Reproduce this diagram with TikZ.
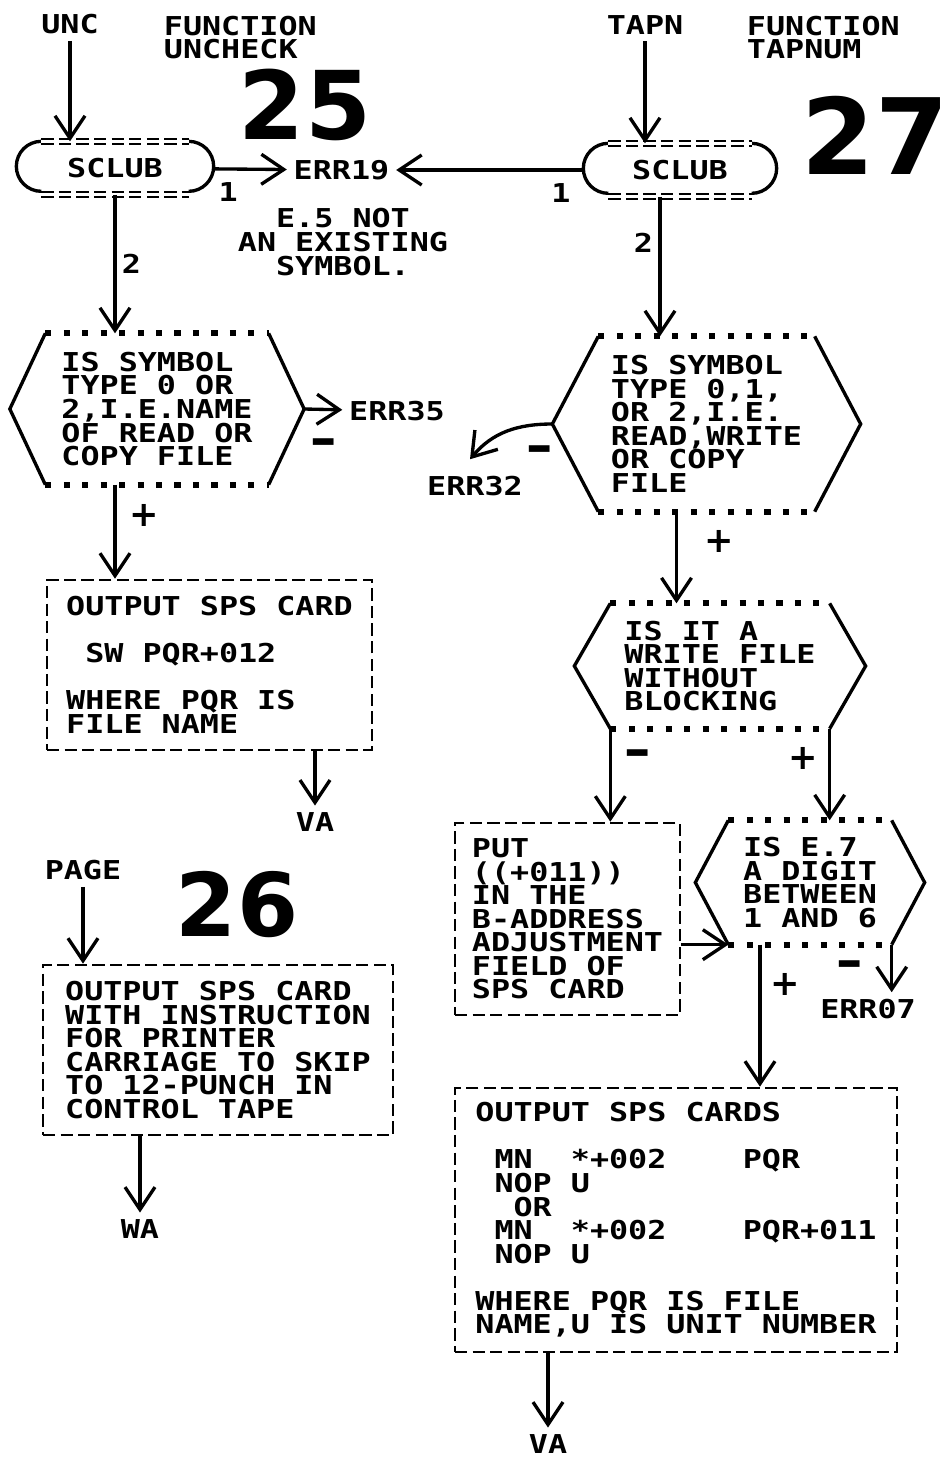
\documentclass[tikz,border=0pt]{standalone}
\usepackage{fontspec}
\newfontfamily\prtfont[FakeStretch=1.22]{DejaVu Sans Mono}
\newfontfamily\handfont{DejaVu Sans}
\usetikzlibrary{arrows.meta, calc}

\begin{document}
\begin{tikzpicture}[
            font=\prtfont\bfseries\fontsize{14.8pt}{13.4pt}\selectfont,
            line width=1.9pt,
            >={Straight Barb[length=4.5mm,width=6mm]},
            arr/.style={->},
            lbl/.style={inner sep=3pt},
            sign/.style={inner sep=0pt, font=\handfont\bfseries\fontsize{20pt}{20pt}\selectfont},
            minus/.style={inner sep=0pt, font=\handfont\bfseries\fontsize{30pt}{30pt}\selectfont},
            hand/.style={inner sep=0pt, font=\handfont\bfseries\fontsize{#1}{#1}\selectfont},
            terminal/.style={inner sep=0pt, minimum height=1cm},
            decision/.style={inner sep=0pt, align=left},
            card/.style={draw, dash pattern=on 7pt off 3pt, line width=1.5pt, inner sep=0pt, align=left},
            stars/.style={line width=3.5pt, dash pattern=on 3.5pt off 7pt},
            eqline/.style={double, double distance=1.6pt, line width=1.1pt, dash pattern=on 7pt off 3pt}
        ]
            \useasboundingbox (0,0) rectangle (18.96,-29.18);

            \node[lbl] (unc) at (1.40,-0.48) {UNC};
            \node[lbl, anchor=north west, align=left] (fununc) at (3.14,-0.18) {FUNCTION\\UNCHECK};
            \node[lbl] (tapn) at (12.90,-0.50) {TAPN};
            \node[lbl, anchor=north west, align=left] (funtap) at (14.80,-0.18) {FUNCTION\\TAPNUM};

            \node[hand=54pt] (n25) at (6.10,-2.10) {25};
            \node[hand=60pt] (n27) at (17.50,-2.70) {27};
            \node[hand=50pt] (n26) at (4.74,-18.10) {26};

            \node[terminal, minimum width=3.88cm] (sclubl) at (2.30,-3.36) {SCLUB};
            \node[terminal, minimum width=3.80cm] (sclubr) at (13.60,-3.40) {SCLUB};

            \node[lbl] (err19) at (6.83,-3.40) {ERR19};
            \node[lbl, align=center] (nosym) at (6.86,-4.84) {E.5 NOT\\AN EXISTING\\SYMBOL.};

            \node[decision, minimum width=4.40cm, minimum height=2.96cm] (hexa) at (3.14,-8.18)
                {IS SYMBOL\\TYPE 0 OR\\2,I.E.NAME\\OF READ OR\\COPY FILE};
            \node[decision, minimum width=4.26cm, minimum height=3.44cm] (hexb) at (14.13,-8.48)
                {IS SYMBOL\\TYPE 0,1,\\OR 2,I.E.\\READ,WRITE\\OR COPY\\FILE};
            \node[decision, minimum width=4.32cm, minimum height=2.44cm] (hexc) at (14.40,-13.32)
                {IS IT A\\WRITE FILE\\WITHOUT\\BLOCKING};
            \node[decision, minimum width=3.20cm, minimum height=2.42cm] (hexd) at (16.20,-17.65)
                {IS E.7\\A DIGIT\\BETWEEN\\1 AND 6};

            \node[lbl] (err35) at (7.94,-8.22) {ERR35};
            \node[lbl] (err32) at (9.50,-9.72) {ERR32};
            \node[lbl] (err07) at (17.36,-20.18) {ERR07};

            \node[card, minimum width=6.50cm, minimum height=3.40cm] (cardsw) at (4.19,-13.30)
                {OUTPUT SPS CARD\\[0.47cm]\phantom{0}SW PQR+012\\[0.47cm]WHERE PQR IS\\FILE NAME};
            \node[card, minimum width=7.00cm, minimum height=3.40cm] (cardpage) at (4.36,-21.00)
                {OUTPUT SPS CARD\\WITH INSTRUCTION\\FOR PRINTER\\CARRIAGE TO SKIP\\TO 12-PUNCH IN\\CONTROL TAPE};
            \node[card, minimum width=4.50cm, minimum height=3.84cm] (putbox) at (11.35,-18.38)
                {PUT\\((+011))\\IN THE\\B-ADDRESS\\ADJUSTMENT\\FIELD OF\\SPS CARD};
            \node[card, minimum width=8.84cm, minimum height=5.28cm] (cardmn) at (13.52,-24.40)
                {OUTPUT SPS CARDS\\[0.47cm]\phantom{0}MN\phantom{00}*+002\phantom{0000}PQR\\\phantom{0}NOP U\\\phantom{00}OR\\\phantom{0}MN\phantom{00}*+002\phantom{0000}PQR+011\\\phantom{0}NOP U\\[0.47cm]WHERE PQR IS FILE\\NAME,U IS UNIT NUMBER};

            \node[lbl] (va1) at (6.30,-16.44) {VA};
            \node[lbl] (page) at (1.66,-17.40) {PAGE};
            \node[lbl] (wa) at (2.80,-24.58) {WA};
            \node[lbl] (va2) at (10.96,-28.88) {VA};

            \foreach \n in {sclubl, sclubr} {
                \draw ([xshift=0.5cm]\n.north west) arc[start angle=90, end angle=270, radius=0.5cm];
                \draw ([xshift=-0.5cm]\n.north east) arc[start angle=90, end angle=-90, radius=0.5cm];
                \draw[eqline] ([xshift=0.5cm]\n.north west) -- ([xshift=-0.5cm]\n.north east);
                \draw[eqline] ([xshift=0.5cm]\n.south west) -- ([xshift=-0.5cm]\n.south east);
            }

            \foreach \n/\p in {hexa/0.71, hexb/0.92, hexc/0.72, hexd/0.66} {
                \coordinate (\n-w) at ([xshift=-\p cm]\n.west);
                \coordinate (\n-e) at ([xshift=\p cm]\n.east);
                \draw (\n.north west) -- (\n-w) -- (\n.south west);
                \draw (\n.north east) -- (\n-e) -- (\n.south east);
                \draw[stars] (\n.north west) -- (\n.north east);
                \draw[stars] (\n.south west) -- (\n.south east);
            }

            \draw[arr] (unc) -- (unc |- sclubl.north);
            \draw[arr] (tapn) -- (tapn |- sclubr.north);
            \draw[arr] (sclubl) -- (err19) node[lbl, pos=0.2, below=4pt] (onel) {1};
            \draw[arr] (sclubr) -- (err19) node[lbl, pos=0.12, below=4pt] (oner) {1};
            \draw[arr] (sclubl.south) -- (sclubl.south |- hexa.north) node[lbl, midway, right] (twol) {2};
            \draw[arr] ([xshift=-0.4cm]sclubr.south) -- ([xshift=-0.4cm]sclubr.south |- hexb.north)
                node[lbl, pos=0.33, left] (twor) {2};

            \draw[arr] (hexa-e) -- (err35) node[minus, midway, yshift=-0.76cm] (mina) {–};
            \draw[arr] (sclubl.south |- hexa.south) -- (sclubl.south |- cardsw.north)
                node[sign, pos=0.33, xshift=0.58cm] (plusa) {+};
            \draw[arr] (va1 |- cardsw.south) -- (va1);

            \draw[arr] (hexb-w) to[out=180, in=50]
                node[minus, pos=0.12, yshift=-0.6cm] (minb) {–}
                ([xshift=-0.1cm, yshift=0.2cm]err32.north);
            \draw[arr] ([xshift=-0.6cm]hexb.south) -- ([xshift=-0.6cm]hexb.south |- hexc.north)
                node[sign, pos=0.32, xshift=0.86cm] (plusb) {+};

            \draw[arr] (hexc.south west) -- (hexc.south west |- putbox.north)
                node[minus, pos=0.32, xshift=0.54cm] (minc) {–};
            \draw[arr] (hexc.south east) -- (hexc.south east |- hexd.north)
                node[sign, pos=0.33, xshift=-0.52cm] (plusc) {+};

            \draw[arr] (putbox.east |- hexd.south west) -- (hexd.south west);
            \draw[arr] (hexd.south east) -- (hexd.south east |- err07.north)
                node[minus, pos=0.52, xshift=-0.84cm] (mind) {–};
            \draw[arr] ([xshift=-1cm]hexd.south) -- ([xshift=-1cm]hexd.south |- cardmn.north)
                node[sign, pos=0.28, xshift=0.5cm] (plusd) {+};
            \draw[arr] (va2 |- cardmn.south) -- (va2);

            \draw[arr] (page) -- (page |- cardpage.north);
            \draw[arr] (wa |- cardpage.south) -- (wa);
        \end{tikzpicture}
\end{document}
